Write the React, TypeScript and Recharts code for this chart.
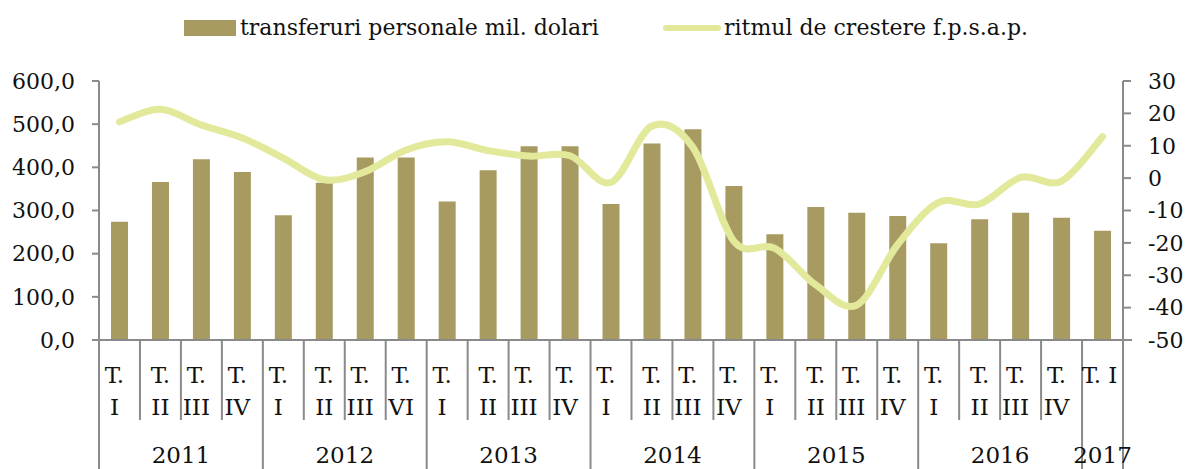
import React from 'react';
import { ComposedChart, Bar, Line, XAxis, YAxis } from 'recharts';

// Quarterly personal transfers (mil. USD) and growth rhythm vs same period of previous year
const YEARS = ['2011', '2012', '2013', '2014', '2015', '2016', '2017'];
const QUARTERS_PER_YEAR = [4, 4, 4, 4, 4, 4, 1];
const QUARTERS = [
  'T. I', 'T. II', 'T. III', 'T. IV',
  'T. I', 'T. II', 'T. III', 'T. VI',
  'T. I', 'T. II', 'T. III', 'T. IV',
  'T. I', 'T. II', 'T. III', 'T. IV',
  'T. I', 'T. II', 'T. III', 'T. IV',
  'T. I', 'T. II', 'T. III', 'T. IV',
  'T. I',
];
const TRANSFERS = [
  274, 366, 419, 389,
  289, 364, 423, 423,
  321, 393, 449, 449,
  315, 455, 488, 357,
  245, 308, 295, 287,
  224, 280, 295, 283,
  253,
];
const GROWTH = [
  17.4, 21.3, 16.4, 12.4,
  6.2, -0.5, 2.0, 8.7,
  11.2, 8.5, 6.8, 6.9,
  -1.3, 16.1, 9.5, -19.5,
  -21.7, -33.0, -39.2, -20.5,
  -7.5, -8.0, 0.2, -0.9,
  12.8,
];
const LEFT_TICKS = [0, 100, 200, 300, 400, 500, 600];
const RIGHT_TICKS = [-50, -40, -30, -20, -10, 0, 10, 20, 30];

const data = QUARTERS.map((q, i) => {
  let acc = 0;
  let yi = 0;
  while (acc + QUARTERS_PER_YEAR[yi] <= i) { acc += QUARTERS_PER_YEAR[yi]; yi++; }
  return {
    id: `${YEARS[yi]}-${i}`,
    quarter: q,
    year: YEARS[yi],
    first: acc === i,
    yearLen: QUARTERS_PER_YEAR[yi],
    transfers: TRANSFERS[i],
    growth: GROWTH[i],
  };
});

/* ── layout ───────────────────────────────────────────────── */
const W = 1186;
const H = 469;
const LEFT_W = 99;
const RIGHT_W = 63;
const TOP = 81;
const X_H = 129;
const BAND = (W - LEFT_W - RIGHT_W) / data.length;

const FONT = '"DejaVu Serif", serif';
const AXIS = '#8a8a8a';
const BAR = '#A89B62';
const LINE = '#E2E99B';

// nudges so wrapped quarter labels sit like the original
const LABEL_SHIFT: Record<string, number> = { I: -5, II: 0, III: -5, IV: -5, VI: -5 };

// Excel-like smoothed line (cardinal / Catmull-Rom bezier)
function smoothCurve(context: any) {
  let pts: number[][] = [];
  return {
    areaStart() {},
    areaEnd() {},
    lineStart() { pts = []; },
    point(x: number, y: number) { pts.push([+x, +y]); },
    lineEnd() {
      if (!pts.length) return;
      context.moveTo(pts[0][0], pts[0][1]);
      for (let i = 0; i < pts.length - 1; i++) {
        const p0 = pts[Math.max(i - 1, 0)];
        const p1 = pts[i];
        const p2 = pts[i + 1];
        const p3 = pts[Math.min(i + 2, pts.length - 1)];
        context.bezierCurveTo(
          p1[0] + (p2[0] - p0[0]) / 6, p1[1] + (p2[1] - p0[1]) / 6,
          p2[0] - (p3[0] - p1[0]) / 6, p2[1] - (p3[1] - p1[1]) / 6,
          p2[0], p2[1],
        );
      }
    },
  };
}

function QuarterTick({ x, y, index }: any) {
  const d = data[index];
  if (!d) return null;
  const last = index === data.length - 1;
  const left = x - BAND / 2;
  const right = x + BAND / 2;
  const roman = d.quarter.replace('T. ', '');
  const dx = LABEL_SHIFT[roman] ?? 0;
  const txt = { fontFamily: FONT, fontSize: 23, fill: '#111' };
  return (
    <g>
      <line x1={left} x2={left} y1={y} y2={d.first ? H : y + 80} stroke={AXIS} strokeWidth={2} />
      {index === 0 && <line x1={left - 7} x2={left} y1={y} y2={y} stroke={AXIS} strokeWidth={2} />}
      {last && <line x1={right} x2={right} y1={y} y2={H} stroke={AXIS} strokeWidth={2} />}
      {last && <line x1={right} x2={right + 9} y1={y} y2={y} stroke={AXIS} strokeWidth={2} />}
      {last ? (
        <text x={x - 3} y={y + 43} textAnchor="middle" style={txt}>{d.quarter}</text>
      ) : (
        <>
          <text x={x + dx} y={y + 43} textAnchor="middle" style={txt}>T.</text>
          <text x={x + dx} y={y + 75} textAnchor="middle" style={txt}>{roman}</text>
        </>
      )}
      {d.first && (
        <text x={left + (d.yearLen * BAND) / 2} y={y + 123} textAnchor="middle" style={txt}>{d.year}</text>
      )}
    </g>
  );
}

function ChartLegend() {
  const txt: React.CSSProperties = { position: 'absolute', top: 14, fontFamily: FONT, fontSize: 22, color: '#111', whiteSpace: 'nowrap', lineHeight: '28px' };
  return (
    <>
      <div style={{ position: 'absolute', left: 184, top: 20, width: 52, height: 16, background: BAR }} />
      <div style={{ ...txt, left: 240 }}>transferuri personale mil. dolari</div>
      <div style={{ position: 'absolute', left: 663, top: 25, width: 58, height: 6, borderRadius: 3, background: LINE }} />
      <div style={{ ...txt, left: 724 }}>ritmul de crestere f.p.s.a.p.</div>
    </>
  );
}

export default function App() {
  const tick = { fontFamily: FONT, fontSize: 22, fill: '#111' };
  return (
    <div style={{ position: 'relative', width: W, height: H, background: '#fff' }}>
      <style>{'body{margin:0}'}</style>
      <ChartLegend />
      <ComposedChart width={W} height={H} data={data} margin={{ top: TOP, right: 0, bottom: 0, left: 0 }}>
        <XAxis
          dataKey="id"
          height={X_H}
          interval={0}
          tickSize={0}
          tickMargin={0}
          tickLine={false}
          axisLine={{ stroke: AXIS, strokeWidth: 2 }}
          tick={<QuarterTick />}
        />
        <YAxis
          yAxisId="left"
          width={LEFT_W}
          domain={[0, 600]}
          ticks={LEFT_TICKS}
          tickFormatter={(v: number) => v.toFixed(1).replace('.', ',')}
          tickSize={7}
          tickMargin={17}
          tickLine={{ stroke: AXIS, strokeWidth: 2 }}
          axisLine={{ stroke: AXIS, strokeWidth: 2 }}
          tick={tick}
        />
        <YAxis
          yAxisId="right"
          orientation="right"
          width={RIGHT_W}
          domain={[-50, 30]}
          ticks={RIGHT_TICKS}
          tickSize={8}
          tickMargin={17}
          tickLine={{ stroke: AXIS, strokeWidth: 2 }}
          axisLine={{ stroke: AXIS, strokeWidth: 2 }}
          tick={tick}
        />
        <Bar yAxisId="left" dataKey="transfers" fill={BAR} barSize={17} isAnimationActive={false} />
        <Line
          yAxisId="right"
          dataKey="growth"
          type={smoothCurve as any}
          stroke={LINE}
          strokeWidth={7}
          strokeLinecap="round"
          dot={false}
          activeDot={false}
          isAnimationActive={false}
        />
      </ComposedChart>
    </div>
  );
}
